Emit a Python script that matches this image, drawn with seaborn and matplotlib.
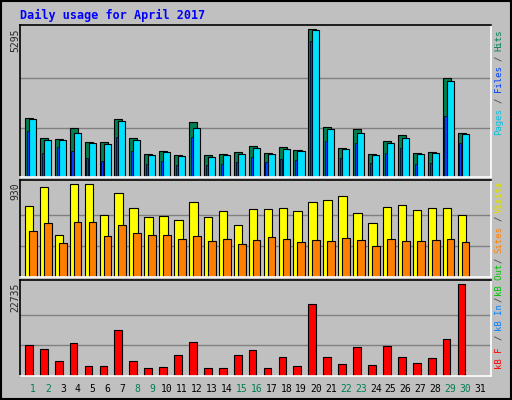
import matplotlib
matplotlib.use("Agg")
import matplotlib.pyplot as plt
import seaborn as sns
import pandas as pd

days = list(range(1, 32))
hits = [2124, 1404, 1368, 1764, 1260, 1260, 2088, 1404, 828, 936, 792, 1980, 792, 828, 900,
        1116, 864, 1080, 972, 5295, 1800, 1044, 1728, 828, 1296, 1512, 864, 900, 3528, 1584, 0]
files = [2088, 1332, 1332, 1584, 1224, 1188, 2016, 1332, 792, 900, 756, 1764, 720, 792, 828,
         1044, 828, 1008, 936, 5256, 1728, 1008, 1584, 792, 1224, 1404, 828, 864, 3420, 1548, 0]
pages = [1656, 864, 1080, 936, 684, 576, 1440, 936, 468, 576, 432, 1440, 432, 468, 540,
         720, 540, 648, 612, 4860, 1296, 684, 1224, 504, 864, 1044, 468, 504, 2196, 1224, 0]
visits = [708, 900, 425, 930, 930, 617, 839, 688, 597, 607, 566, 748, 597, 657, 516,
          677, 677, 688, 657, 748, 768, 809, 637, 536, 698, 718, 667, 688, 688, 617, 0]
sites = [465, 536, 344, 546, 546, 415, 516, 445, 425, 425, 384, 415, 364, 384, 334,
         374, 404, 384, 354, 374, 364, 394, 374, 313, 384, 364, 364, 374, 384, 354, 0]
kbytes = [7746, 6746, 3748, 8246, 2499, 2499, 11494, 3748, 1999, 2249, 5247, 8496, 1999, 1999, 5247,
          6497, 1999, 4748, 2499, 17741, 4748, 2999, 7246, 2749, 7496, 4748, 3248, 4498, 9246, 22735, 0]
weekend = [1, 2, 8, 9, 15, 16, 22, 23, 29, 30]

df = pd.DataFrame({"day": days, "hits": hits, "files": files, "pages": pages,
                   "visits": visits, "sites": sites, "kbytes": kbytes})

sns.set_style("white")
plt.rcParams['font.family'] = ['DejaVu Sans Mono']

BG = "#C0C0C0"
GREEN = "#008050"
fig = plt.figure(figsize=(5.12, 4.0), dpi=100, facecolor=BG)
W, H = 512, 400

def panel(top, bottom):
    ax = fig.add_axes([20 / W, 1 - bottom / H, 471 / W, (bottom - top) / H])
    ax.set_facecolor(BG)
    ax.spines["top"].set_color("black")
    ax.spines["left"].set_color("black")
    ax.spines["bottom"].set_color("white")
    ax.spines["right"].set_color("white")
    for s in ax.spines.values():
        s.set_linewidth(1.2)
    ax.set_xlim(-0.87, 30.7)
    ax.set_xticks([])
    ax.set_yticks([])
    return ax

x = df.index.to_numpy()
ec = dict(edgecolor="black", linewidth=0.8)

# top: hits / files / pages
ax1 = panel(25, 177)
mx = max(hits)
ax1.set_ylim(0, mx * 151 / 147)
for g in (mx / 3, 2 * mx / 3):
    ax1.axhline(g, color="#808080", lw=1, zorder=0)
ax1.bar(x - 0.54, df["hits"], width=0.54, align="edge", color=GREEN, **ec)
ax1.bar(x - 0.27, df["files"], width=0.47, align="edge", color="#00E0FF", **ec)
ax1.bar(x - 0.42, df["pages"], width=0.14, align="edge", color="#0040FF", edgecolor="black", linewidth=0.5)

# middle: visits / sites
ax2 = panel(180, 277)
mv = max(visits)
ax2.set_ylim(0, mv * 96 / 92)
for g in (mv / 3, 2 * mv / 3):
    ax2.axhline(g, color="#808080", lw=1, zorder=0)
ax2.bar(x - 0.54, df["visits"], width=0.57, align="edge", color="#FFFF00", **ec)
ax2.bar(x - 0.27, df["sites"], width=0.52, align="edge", color="#FF8000", **ec)

# bottom: kB
ax3 = panel(280, 376)
mk = max(kbytes)
ax3.set_ylim(0, mk * 95 / 91)
for g in (mk / 3, 2 * mk / 3):
    ax3.axhline(g, color="#808080", lw=1, zorder=0)
ax3.bar(x - 0.54, df["kbytes"], width=0.52, align="edge", color="#FF0000", **ec)

# texts
fs = 7
fig.text(20 / W, 1 - 15 / H, "Daily usage for April 2017", color="#0000FF",
         fontsize=8.5, fontweight="bold", va="center")
for val, ytop in ((max(hits), 28), (max(visits), 182), (max(kbytes), 283)):
    fig.text(15 / W, 1 - ytop / H, str(val), rotation=90, fontsize=fs, ha="center", va="top")

legend_parts = [
    ("Hits", GREEN, 40), ("/", "#404040", 58), ("Files", "#0040FF", 79), ("/", "#404040", 100),
    ("Pages", "#00C0E0", 122),
    ("Visits", "#E0E000", 197), ("/", "#404040", 218), ("Sites", "#FF8000", 240),
    ("/", "#404040", 260), ("kB Out", "#00C000", 280), ("/", "#404040", 299),
    ("kB In", "#0080FF", 318), ("/", "#404040", 337), ("kB F", "#FF0000", 358),
]
for txt, col, yc in legend_parts:
    fig.text(499 / W, 1 - yc / H, txt, rotation=90, color=col, fontsize=6.5,
             ha="center", va="center")

for i, d in enumerate(days):
    px = 33 + i * 14.9
    fig.text(px / W, 1 - 389 / H, str(d), fontsize=fs, ha="center", va="center",
             color=GREEN if d in weekend else "black")

# outer frame
fig.patches.append(plt.Rectangle((0.002, 0.002), 0.996, 0.996, transform=fig.transFigure,
                                 fill=False, edgecolor="black", linewidth=1.5))

fig.savefig("out.png", dpi=100, facecolor=BG)
